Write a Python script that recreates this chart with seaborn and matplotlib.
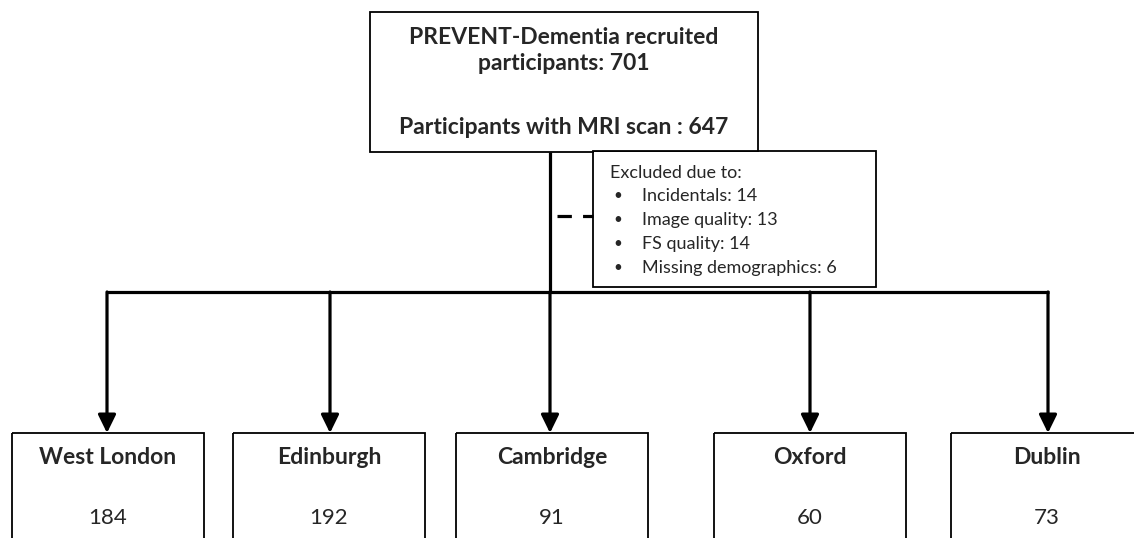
import matplotlib
matplotlib.use("Agg")
import matplotlib.pyplot as plt
from matplotlib.patches import Rectangle
import seaborn as sns

# ---------------------------------- DATA ----------------------------------
recruited = 701
with_mri = 647
exclusion_reasons = ["Incidentals", "Image quality", "FS quality", "Missing demographics"]
exclusion_counts = [14, 13, 14, 6]
sites = ["West London", "Edinburgh", "Cambridge", "Oxford", "Dublin"]
site_counts = [184, 192, 91, 60, 73]

# ---------------------------------- LAYOUT (pixels) ----------------------------------
W, H = 1134, 538
site_left = [12, 233, 456, 714, 951]
site_width = 192
arrow_x = [107, 330, 550, 810, 1048]
trunk_x = 550
bar_y = 292
site_top = 433

sns.set_theme(style="white")
plt.rcParams['font.family'] = ['Lato', 'DejaVu Sans']

fig = plt.figure(figsize=(W / 100, H / 100), dpi=100)
ax = fig.add_axes([0, 0, 1, 1])
ax.set_xlim(0, W)
ax.set_ylim(H, 0)
ax.axis("off")

thick = 2.3
thin = 1.3

# top box
ax.add_patch(Rectangle((370, 12), 388, 140, fill=False, ec="black", lw=thin))
ax.text(564, 37, "PREVENT-Dementia recruited", ha="center", va="center",
        fontsize=16.5, fontweight="bold")
ax.text(564, 64, f"participants: {recruited}", ha="center", va="center",
        fontsize=16.5, fontweight="bold")
ax.text(564, 128, f"Participants with MRI scan : {with_mri}", ha="center", va="center",
        fontsize=16.5, fontweight="bold")

# trunk and horizontal bar
ax.plot([trunk_x, trunk_x], [152, bar_y], color="black", lw=thick, solid_capstyle="butt")
ax.plot([arrow_x[0] - 1, arrow_x[-1] + 1], [bar_y, bar_y], color="black", lw=thick,
        solid_capstyle="butt")

# exclusion box + dashed connector
ax.plot([557, 593], [216, 216], color="black", lw=thick, linestyle=(0, (4.5, 3.5)))
ax.add_patch(Rectangle((594, 152), 281, 134, color="white", lw=0, zorder=1))
ax.add_patch(Rectangle((593, 151), 283, 136, fill=False, ec="black", lw=thin))
ax.text(610, 173, "Excluded due to:", ha="left", va="center", fontsize=13, zorder=3)
for i, (reason, n) in enumerate(zip(exclusion_reasons, exclusion_counts)):
    y = 196 + i * 24
    ax.text(613, y, "\u2022", ha="left", va="center", fontsize=11, zorder=3)
    ax.text(642, y, f"{reason}: {n}", ha="left", va="center", fontsize=13, zorder=3)

# arrows and site boxes
for x, left, name, n in zip(arrow_x, site_left, sites, site_counts):
    ax.annotate("", xy=(x, site_top), xytext=(x, bar_y),
                arrowprops=dict(arrowstyle="-|>,head_length=0.55,head_width=0.27",
                                mutation_scale=20, color="black", lw=thick,
                                shrinkA=0, shrinkB=0))
    ax.add_patch(Rectangle((left, site_top), site_width, 200, fill=False,
                           ec="black", lw=thin))
    cx = left + site_width / 2
    ax.text(cx, 457, name, ha="center", va="center", fontsize=16.5, fontweight="bold")
    ax.text(cx, 518, str(n), ha="center", va="center", fontsize=16)

fig.savefig("out.png", dpi=100)
plt.close(fig)
